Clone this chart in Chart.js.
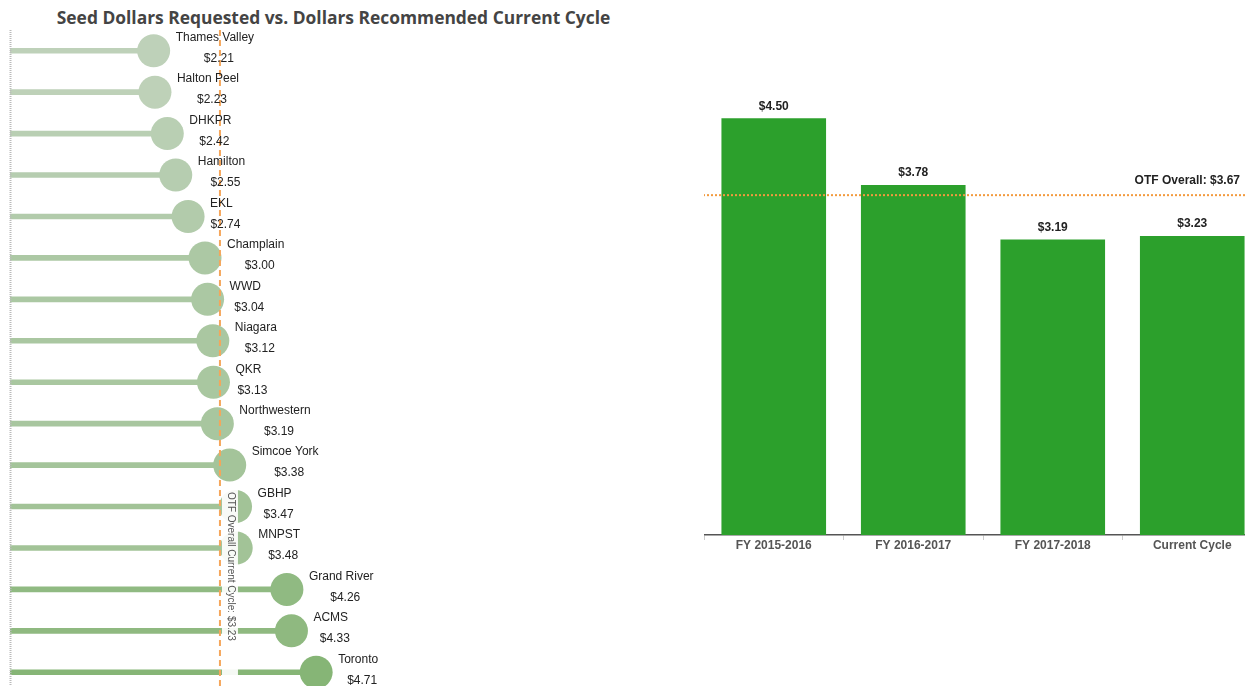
<!DOCTYPE html>
<html>
<head>
<meta charset="utf-8">
<script src="https://cdn.jsdelivr.net/npm/chart.js@4.4.1/dist/chart.umd.min.js"></script>
<style>
  html, body { margin: 0; padding: 0; background: #fff; overflow: hidden; width: 1245px; height: 686px; }
  #title { position: absolute; left: 0; top: 5px; width: 667px; text-align: center;
    font: 700 17.4px "Open Sans", sans-serif; color: #444; }
  #leftWrap { position: absolute; left: 0; top: 0; width: 665px; height: 700px; }
  #rightWrap { position: absolute; left: 704px; top: 0; width: 558px; height: 565px; }
</style>
</head>
<body>
<div id="title">Seed Dollars Requested vs. Dollars Recommended Current Cycle</div>
<div id="leftWrap"><canvas id="lollipop"></canvas></div>
<div id="rightWrap"><canvas id="bars"></canvas></div>
<script>
// lollipop data (current cycle, by region)
const regions = ['Thames Valley', 'Halton Peel', 'DHKPR', 'Hamilton', 'EKL', 'Champlain', 'WWD', 'Niagara',
  'QKR', 'Northwestern', 'Simcoe York', 'GBHP', 'MNPST', 'Grand River', 'ACMS', 'Toronto'];
const regionValues = [2.21, 2.23, 2.42, 2.55, 2.74, 3.00, 3.04, 3.12, 3.13, 3.19, 3.38, 3.47, 3.48, 4.26, 4.33, 4.71];
const currentOverall = 3.23;

// bar data (by fiscal year)
const years = ['FY 2015-2016', 'FY 2016-2017', 'FY 2017-2018', 'Current Cycle'];
const yearValues = [4.50, 3.78, 3.19, 3.23];
const otfOverall = 3.67;

const fmt = v => '$' + v.toFixed(2);

// colour shade goes from pale grey-green to stronger green as the value grows
function shade(v) {
  const lo = [190, 209, 185], hi = [134, 181, 118];
  const t = Math.max(0, Math.min(1, (v - 2.21) / (4.71 - 2.21)));
  const c = lo.map((a, i) => Math.round(a + (hi[i] - a) * t));
  return 'rgb(' + c.join(',') + ')';
}
const dotColors = regionValues.map(shade);

const lollipopLabels = {
  id: 'lollipopLabels',
  afterDatasetsDraw(chart) {
    const ctx = chart.ctx;
    const xs = chart.scales.x;
    const area = chart.chartArea;
    ctx.save();
    // dotted zero axis
    ctx.strokeStyle = '#bbb';
    ctx.lineWidth = 2;
    ctx.setLineDash([1, 1]);
    const x0 = Math.round(xs.getPixelForValue(0)) + 0.5;
    ctx.beginPath(); ctx.moveTo(x0, area.top); ctx.lineTo(x0, 700); ctx.stroke();

    // reference line
    const xr = xs.getPixelForValue(currentOverall);
    ctx.strokeStyle = '#f5a65b';
    ctx.lineWidth = 2;
    ctx.setLineDash([6, 4]);
    ctx.beginPath(); ctx.moveTo(xr, area.top); ctx.lineTo(xr, 700); ctx.stroke();
    ctx.setLineDash([]);

    // point labels
    const meta = chart.getDatasetMeta(1);
    ctx.font = '12px "Liberation Sans", Arial, sans-serif';
    ctx.fillStyle = '#222';
    ctx.textBaseline = 'middle';
    meta.data.forEach((pt, i) => {
      const name = regions[i];
      const nx = pt.x + 22;
      const w = ctx.measureText(name).width;
      ctx.textAlign = 'left';
      ctx.fillText(name, nx, pt.y - 13);
      ctx.textAlign = 'center';
      ctx.fillText(fmt(regionValues[i]), nx + w / 2 + 4, pt.y + 8);
    });

    // reference label box
    ctx.fillStyle = 'rgba(255,255,255,0.92)';
    ctx.fillRect(xr + 2, 487, 16, 196);
    ctx.translate(xr + 11, 492);
    ctx.rotate(Math.PI / 2);
    ctx.font = '10px "Liberation Sans", Arial, sans-serif';
    ctx.fillStyle = '#555';
    ctx.textAlign = 'left';
    ctx.textBaseline = 'middle';
    ctx.fillText('OTF Overall Current Cycle: ' + fmt(currentOverall), 0, 0);
    ctx.restore();
  }
};

new Chart(document.getElementById('lollipop'), {
  data: {
    labels: regions,
    datasets: [
      {
        type: 'bar',
        data: regionValues,
        backgroundColor: dotColors,
        barThickness: 5,
        order: 1,
      },
      {
        type: 'line',
        data: regionValues,
        showLine: false,
        pointRadius: 16.5,
        pointHoverRadius: 16.5,
        pointBackgroundColor: dotColors,
        pointBorderWidth: 0,
        clip: false,
        order: 0,
      },
    ],
  },
  options: {
    indexAxis: 'y',
    responsive: true,
    maintainAspectRatio: false,
    animation: false,
    layout: { autoPadding: false, padding: { top: 30, bottom: 7, left: 10, right: 5 } },
    plugins: { legend: { display: false }, tooltip: { enabled: false } },
    scales: {
      x: { type: 'linear', min: 0, max: 10, display: false },
      y: { type: 'category', offset: true, display: false },
    },
  },
  plugins: [lollipopLabels],
});

const barLabels = {
  id: 'barLabels',
  afterDatasetsDraw(chart) {
    const ctx = chart.ctx;
    const area = chart.chartArea;
    ctx.save();
    ctx.font = 'bold 12px "Liberation Sans", Arial, sans-serif';
    ctx.fillStyle = '#222';
    ctx.textAlign = 'center';
    ctx.textBaseline = 'middle';
    chart.getDatasetMeta(0).data.forEach((bar, i) => {
      ctx.fillText(fmt(yearValues[i]), bar.x, bar.y - 12);
    });
    // OTF overall line
    const y = chart.scales.y.getPixelForValue(otfOverall);
    ctx.strokeStyle = '#f39a3e';
    ctx.lineWidth = 2;
    ctx.setLineDash([2, 2]);
    ctx.beginPath(); ctx.moveTo(area.left - 1, y); ctx.lineTo(chart.width, y); ctx.stroke();
    ctx.setLineDash([]);
    ctx.textAlign = 'right';
    ctx.fillText('OTF Overall: ' + fmt(otfOverall), 536, y - 14);
    ctx.restore();
  }
};

new Chart(document.getElementById('bars'), {
  type: 'bar',
  data: {
    labels: years,
    datasets: [{
      data: yearValues,
      backgroundColor: '#2ca02c',
      categoryPercentage: 1,
      barPercentage: 0.75,
    }],
  },
  options: {
    responsive: true,
    maintainAspectRatio: false,
    animation: false,
    layout: { padding: { top: 72, left: 0, right: 0, bottom: 0 } },
    plugins: { legend: { display: false }, tooltip: { enabled: false } },
    scales: {
      y: { min: 0, max: 5, display: false },
      x: {
        offset: true,
        afterFit(scale) { scale.height = 30; },
        grid: { drawOnChartArea: false, drawTicks: true, tickLength: 5, color: '#ccc', offset: true },
        border: { color: '#555', width: 1.5 },
        ticks: {
          padding: -2,
          color: '#555',
          font: { family: '"Liberation Sans", Arial, sans-serif', size: 12, weight: 'bold' },
        },
      },
    },
  },
  plugins: [barLabels],
});
</script>
</body>
</html>
